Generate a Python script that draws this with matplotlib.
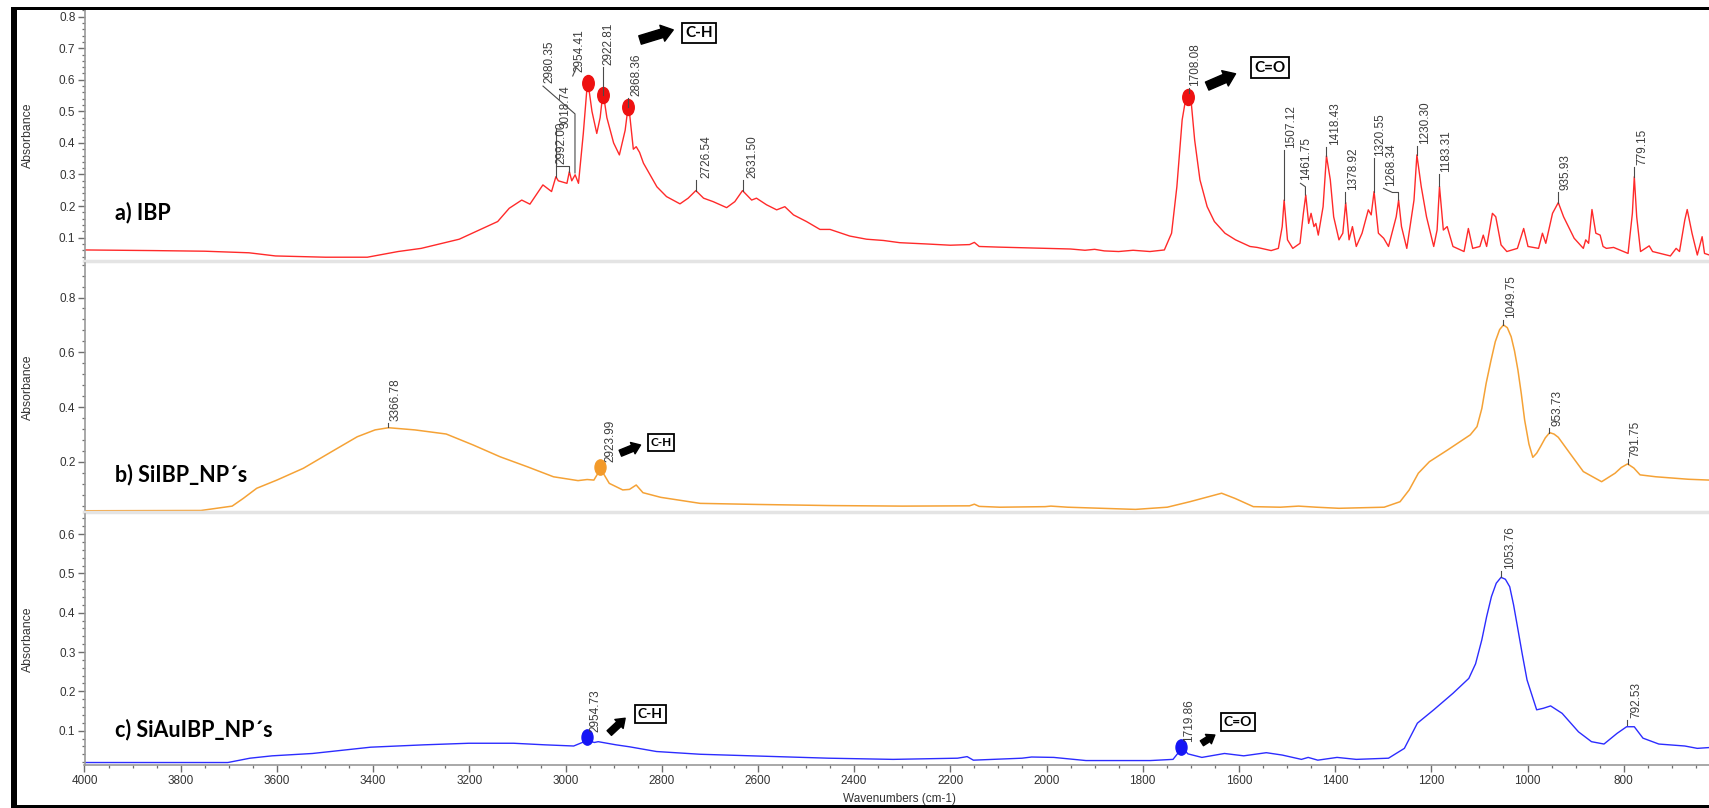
import matplotlib
matplotlib.use("Agg")
import matplotlib.pyplot as plt
from matplotlib.patches import Rectangle, FancyArrowPatch
from matplotlib.markers import MarkerStyle
from matplotlib.transforms import Affine2D
from matplotlib.ticker import MultipleLocator

plt.rcParams['font.family'] = ['Liberation Sans', 'DejaVu Sans']

# ---- spectra (wavenumber, absorbance) ----
ibp_wn = [4000, 3857, 3750, 3658, 3603, 3499, 3412, 3348, 3300, 3221, 3141, 3117, 3091, 3074,
          3047, 3029, 3020, 3015, 2997, 2992, 2987, 2980, 2973, 2963, 2954, 2945, 2935, 2928,
          2922, 2914, 2900, 2888, 2876, 2869, 2859, 2853, 2846, 2838, 2810, 2790, 2762, 2745,
          2729, 2713, 2693, 2665, 2648, 2632, 2613, 2603, 2582, 2561, 2544, 2526, 2499, 2471,
          2450, 2409, 2374, 2339, 2305, 2250, 2200, 2160, 2150, 2140, 2100, 2050, 2000, 1950,
          1920, 1900, 1880, 1850, 1820, 1785, 1755, 1740, 1729, 1718, 1711, 1706, 1699, 1692,
          1681, 1666, 1651, 1629, 1607, 1577, 1562, 1533, 1518, 1510, 1506, 1499, 1488, 1473,
          1466, 1461, 1455, 1450, 1444, 1440, 1435, 1425, 1418, 1410, 1403, 1392, 1384, 1378,
          1371, 1364, 1356, 1344, 1331, 1325, 1319, 1310, 1299, 1289, 1273, 1268, 1262, 1251,
          1236, 1230, 1221, 1210, 1195, 1188, 1183, 1175, 1167, 1155, 1132, 1123, 1114, 1099,
          1092, 1085, 1073, 1066, 1055, 1043, 1021, 1008, 999, 977, 969, 962, 948, 936, 925,
          903, 884, 879, 873, 866, 858, 849, 843, 836, 821, 791, 782, 778, 773, 765, 747, 740,
          703, 691, 684, 673, 668, 658, 647, 637, 632, 622]
ibp_abs = [0.061, 0.059, 0.057, 0.052, 0.042, 0.038, 0.038, 0.056, 0.066, 0.095, 0.151, 0.193,
           0.219, 0.206, 0.267, 0.246, 0.293, 0.280, 0.272, 0.309, 0.280, 0.299, 0.272, 0.430,
           0.600, 0.500, 0.430, 0.480, 0.562, 0.480, 0.400, 0.362, 0.440, 0.525, 0.380, 0.388,
           0.370, 0.336, 0.261, 0.230, 0.207, 0.225, 0.249, 0.225, 0.214, 0.195, 0.214, 0.249,
           0.219, 0.225, 0.204, 0.188, 0.198, 0.172, 0.151, 0.126, 0.126, 0.105, 0.095, 0.091,
           0.084, 0.080, 0.076, 0.078, 0.085, 0.072, 0.070, 0.068, 0.066, 0.064, 0.060, 0.063,
           0.058, 0.056, 0.060, 0.056, 0.061, 0.114, 0.261, 0.473, 0.536, 0.552, 0.526, 0.409,
           0.283, 0.198, 0.151, 0.114, 0.093, 0.072, 0.069, 0.059, 0.066, 0.135, 0.219, 0.093,
           0.066, 0.082, 0.177, 0.235, 0.145, 0.177, 0.135, 0.145, 0.108, 0.198, 0.359, 0.283,
           0.166, 0.093, 0.114, 0.211, 0.093, 0.135, 0.072, 0.114, 0.188, 0.172, 0.246, 0.114,
           0.098, 0.072, 0.166, 0.219, 0.135, 0.066, 0.219, 0.362, 0.262, 0.166, 0.072, 0.124,
           0.262, 0.124, 0.135, 0.072, 0.056, 0.129, 0.066, 0.072, 0.108, 0.072, 0.177, 0.166,
           0.077, 0.056, 0.066, 0.129, 0.072, 0.066, 0.114, 0.082, 0.177, 0.211, 0.166, 0.098,
           0.066, 0.093, 0.082, 0.189, 0.114, 0.108, 0.072, 0.066, 0.069, 0.050, 0.177, 0.293,
           0.166, 0.056, 0.074, 0.056, 0.042, 0.066, 0.056, 0.156, 0.189, 0.114, 0.045, 0.103,
           0.050, 0.045]

sibp_wn = [4000, 3758, 3693, 3670, 3642, 3600, 3545, 3480, 3433, 3396, 3368, 3313, 3248, 3192,
           3136, 3080, 3025, 2974, 2955, 2941, 2927, 2909, 2881, 2867, 2853, 2839, 2802, 2720,
           2600, 2450, 2300, 2160, 2150, 2140, 2097, 2003, 1991, 1956, 1815, 1749, 1702, 1636,
           1608, 1570, 1514, 1476, 1439, 1392, 1298, 1265, 1246, 1227, 1204, 1166, 1119, 1105,
           1095, 1086, 1076, 1067, 1058, 1050, 1042, 1034, 1027, 1020, 1013, 1006, 997, 989,
           981, 973, 963, 954, 945, 936, 912, 884, 846, 818, 805, 792, 779, 766, 733, 666, 623]
sibp_abs = [0.022, 0.023, 0.039, 0.067, 0.104, 0.134, 0.177, 0.244, 0.292, 0.317, 0.325, 0.317,
            0.302, 0.262, 0.219, 0.183, 0.146, 0.132, 0.136, 0.134, 0.175, 0.122, 0.098, 0.100,
            0.116, 0.088, 0.071, 0.049, 0.045, 0.041, 0.039, 0.040, 0.046, 0.038, 0.035, 0.037,
            0.039, 0.035, 0.027, 0.035, 0.055, 0.086, 0.067, 0.037, 0.035, 0.039, 0.035, 0.031,
            0.035, 0.055, 0.098, 0.159, 0.201, 0.244, 0.299, 0.329, 0.395, 0.487, 0.570, 0.639,
            0.683, 0.700, 0.690, 0.657, 0.605, 0.536, 0.450, 0.353, 0.265, 0.217, 0.232, 0.256,
            0.288, 0.307, 0.302, 0.290, 0.232, 0.165, 0.128, 0.159, 0.180, 0.193, 0.178, 0.153,
            0.146, 0.137, 0.134]

siau_wn = [4000, 3702, 3656, 3610, 3526, 3405, 3294, 3201, 3108, 3043, 2983, 2969, 2955, 2940,
           2932, 2895, 2867, 2811, 2720, 2453, 2319, 2185, 2165, 2152, 2051, 2031, 1985, 1918,
           1784, 1737, 1724, 1720, 1706, 1677, 1630, 1590, 1543, 1510, 1470, 1456, 1436, 1396,
           1356, 1289, 1256, 1229, 1195, 1155, 1122, 1108, 1095, 1085, 1075, 1065, 1055, 1046,
           1037, 1029, 1021, 1011, 1001, 981, 967, 952, 928, 894, 867, 841, 814, 794, 778,
           760, 727, 673, 647, 623]
siau_abs = [0.019, 0.019, 0.030, 0.036, 0.042, 0.058, 0.064, 0.068, 0.068, 0.064, 0.061, 0.068,
            0.075, 0.070, 0.072, 0.064, 0.059, 0.047, 0.040, 0.030, 0.027, 0.030, 0.034, 0.025,
            0.030, 0.033, 0.032, 0.024, 0.024, 0.027, 0.047, 0.060, 0.041, 0.032, 0.042, 0.036,
            0.044, 0.038, 0.027, 0.032, 0.025, 0.032, 0.027, 0.030, 0.055, 0.119, 0.153, 0.195,
            0.233, 0.270, 0.331, 0.390, 0.441, 0.475, 0.490, 0.485, 0.466, 0.420, 0.365, 0.295,
            0.229, 0.153, 0.157, 0.163, 0.144, 0.097, 0.072, 0.066, 0.093, 0.110, 0.110, 0.081,
            0.066, 0.061, 0.055, 0.057]

# marked peaks (dots)
ibp_dots_wn = [2954, 2922.7, 2869.4, 1706]
ibp_dots_abs = [0.589, 0.552, 0.514, 0.547]
sibp_dots_wn = [2927.5]
sibp_dots_abs = [0.183]
siau_dots_wn = [2955.3, 1719.7]
siau_dots_abs = [0.083, 0.058]

W, H = 1709, 808
fig = plt.figure(figsize=(W / 100, H / 100), dpi=100)


def px_axes(x0, y0, x1, y1):
    return fig.add_axes([x0 / W, 1 - y1 / H, (x1 - x0) / W, (y1 - y0) / H])


ax_a = px_axes(84.5, 10, W, 261)
ax_b = px_axes(84.5, 263, W, 512)
ax_c = px_axes(84.5, 514, W, 765)

ax_a.set_ylim(0.026, 0.821)
ax_b.set_ylim(0.0175, 0.926)
ax_c.set_ylim(0.0127, 0.651)

tick_grey = '#6e6e6e'
for ax, major, minor in [(ax_a, 0.1, 0.02), (ax_b, 0.2, 0.04), (ax_c, 0.1, 0.02)]:
    ax.set_xlim(4000, 622.7)
    for s in ['top', 'right']:
        ax.spines[s].set_visible(False)
    ax.spines['left'].set_color('#9a9a9a')
    ax.spines['left'].set_linewidth(1.2)
    ax.yaxis.set_major_locator(MultipleLocator(major))
    ax.yaxis.set_minor_locator(MultipleLocator(minor))
    ax.tick_params(axis='y', which='major', length=5, width=1, color=tick_grey,
                   labelsize=8.5, labelcolor='#333333', pad=1.5)
    ax.tick_params(axis='y', which='minor', length=2.5, width=0.9, color=tick_grey)
    ax.patch.set_alpha(0)

ax_a.set_yticks([0.1, 0.2, 0.3, 0.4, 0.5, 0.6, 0.7, 0.8])
ax_b.set_yticks([0.2, 0.4, 0.6, 0.8])
ax_c.set_yticks([0.1, 0.2, 0.3, 0.4, 0.5, 0.6])

for ax in [ax_a, ax_b]:
    ax.spines['bottom'].set_color('#e4e4e4')
    ax.spines['bottom'].set_linewidth(2.5)
    ax.tick_params(axis='x', which='both', bottom=False, labelbottom=False)

ax_c.spines['bottom'].set_color('#9a9a9a')
ax_c.spines['bottom'].set_linewidth(1.2)
ax_c.xaxis.set_major_locator(MultipleLocator(200))
ax_c.xaxis.set_minor_locator(MultipleLocator(50))
ax_c.tick_params(axis='x', which='major', length=5, width=1, color=tick_grey,
                 labelsize=8.5, labelcolor='#333333', pad=2)
ax_c.tick_params(axis='x', which='minor', length=2.5, width=0.9, color=tick_grey)

red, orange, blue = '#ff2a2a', '#f5a236', '#2c2cff'
ax_a.plot(ibp_wn, ibp_abs, color=red, lw=1.0)
ax_b.plot(sibp_wn, sibp_abs, color=orange, lw=1.1)
ax_c.plot(siau_wn, siau_abs, color=blue, lw=1.0)

dot = MarkerStyle('o', transform=Affine2D().scale(0.72, 1.0))
ax_a.plot(ibp_dots_wn, ibp_dots_abs, ls='none', marker=dot, ms=11.5, color='#ee1111')
ax_b.plot(sibp_dots_wn, sibp_dots_abs, ls='none', marker=dot, ms=11, color='#f39a2a')
ax_c.plot(siau_dots_wn, siau_dots_abs, ls='none', marker=dot, ms=11, color='#1515f5')

# ---- peak labels ----
lab_kw = dict(rotation=90, ha='center', va='bottom', fontsize=8.5, color='#3c3c3c',
              textcoords='offset pixels')
lead = dict(color='#4a4a4a', lw=0.8)

# text, wavenumber, line bottom, line top, text shift (px)
simple_labels = {
    ax_a: [("2922.81", 2922.7, 0.552, 0.641, 5.5), ("2868.36", 2869.4, 0.514, 0.542, 7.7),
           ("2726.54", 2728.7, 0.248, 0.283, 10), ("2631.50", 2631.6, 0.248, 0.283, 10),
           ("1708.08", 1704.8, 0.557, 0.573, 7), ("1507.12", 1506, 0.219, 0.376, 7),
           ("1418.43", 1418.9, 0.359, 0.388, 8.7), ("1378.92", 1378.6, 0.211, 0.243, 7.6),
           ("1320.55", 1319.3, 0.246, 0.351, 6), ("1230.30", 1230.4, 0.362, 0.391, 8.3),
           ("1183.31", 1183, 0.262, 0.302, 7), ("935.93", 936.6, 0.211, 0.243, 7.3),
           ("779.15", 778.6, 0.293, 0.325, 8)],
    ax_b: [("3366.78", 3370, 0.329, 0.343, 7.5), ("1049.75", 1050.3, 0.700, 0.718, 7.7),
           ("953.73", 954.5, 0.307, 0.325, 7.6), ("791.75", 791.9, 0.193, 0.211, 7.7)],
    ax_c: [("1053.76", 1055.1, 0.492, 0.505, 9), ("792.53", 794, 0.1145, 0.127, 9.4)],
}
for ax, items in simple_labels.items():
    for txt, wn, v0, v1, dx in items:
        ax.plot([wn, wn], [v0, v1], **lead)
        ax.annotate(txt, xy=(wn, v1), xytext=(dx, 2), **lab_kw)

# labels with bent leaders: text, leader points, text anchor
bent_labels = {
    ax_a: [("2980.35", [(2980.3, 0.305), (2980.3, 0.492), (3046.8, 0.58)], (3034, 0.59)),
           ("3018.74", [(3020, 0.292), (3020, 0.447)], (2999, 0.447)),
           ("2992.00", [(2992.7, 0.308), (2992.7, 0.327), (3019.7, 0.327)], (3009, 0.333)),
           ("2954.41", [(2985, 0.612), (2978, 0.637)], (2971, 0.625)),
           ("1461.75", [(1461.7, 0.235), (1461.7, 0.261), (1472, 0.272)], (1460.5, 0.283)),
           ("1268.34", [(1268.2, 0.219), (1268.2, 0.243), (1280.8, 0.243), (1299.4, 0.256)],
            (1283, 0.262))],
    ax_b: [("2923.99", [], (2906, 0.201))],
    ax_c: [("2954.73", [], (2938.7, 0.0975)), ("1719.86", [], (1703.7, 0.072))],
}
for ax, items in bent_labels.items():
    for txt, pts, (tx, ty) in items:
        if pts:
            ax.plot([p[0] for p in pts], [p[1] for p in pts], **lead)
        ax.annotate(txt, xy=(tx, ty), xytext=(0, 0), **lab_kw)

# ---- functional group callouts ----
def callout(ax, tail, head, box_xy, text, scale, fs):
    ax.add_patch(FancyArrowPatch(tail, head, arrowstyle='simple,head_length=0.55,head_width=0.8,tail_width=0.42',
                                 mutation_scale=scale, color='black', shrinkA=0, shrinkB=0, zorder=5))
    ax.text(box_xy[0], box_xy[1], text, ha='center', va='center', fontsize=fs, fontweight='bold',
            family=['Lato', 'DejaVu Sans'], zorder=6,
            bbox=dict(boxstyle='square,pad=0.22', fc='white', ec='black', lw=1.3))


callout(ax_a, (2845, 0.726), (2776, 0.758), (2722, 0.748), 'C-H', 15, 11)
callout(ax_a, (1666, 0.580), (1607, 0.619), (1535, 0.638), 'C=O', 15, 11)
callout(ax_b, (2886, 0.232), (2844, 0.262), (2802, 0.271), 'C-H', 11, 8.5)
callout(ax_c, (2909, 0.094), (2876, 0.1316), (2824, 0.1425), 'C-H', 11, 10)
callout(ax_c, (1677, 0.068), (1650, 0.089), (1602, 0.121), 'C=O', 10, 10)

# ---- sample names ----
name_kw = dict(ha='left', va='center', fontsize=15.5, fontweight='bold', family=['Lato', 'DejaVu Sans'])
ax_a.text(3936, 0.181, 'a) IBP', **name_kw)
ax_b.text(3936, 0.153, 'b) SiIBP_NP´s', **name_kw)
ax_c.text(3936, 0.104, 'c) SiAuIBP_NP´s', **name_kw)

# ---- axis titles ----
for ax in [ax_a, ax_b, ax_c]:
    pos = ax.get_position()
    fig.text(28 / W, pos.y0 + pos.height / 2, 'Absorbance', rotation=90, ha='center', va='center',
             fontsize=8.8, color='#333333')
fig.text(899 / W, 1 - 799 / H, 'Wavenumbers (cm-1)', ha='center', va='center', fontsize=8.5,
         color='#333333')

# ---- screenshot frame ----
fig.add_artist(Rectangle((11 / W, 0), 6 / W, (H - 7) / H, transform=fig.transFigure, color='black', lw=0))
fig.add_artist(Rectangle((11 / W, 1 - 10 / H), (W - 11) / W, 3 / H, transform=fig.transFigure, color='black', lw=0))
fig.add_artist(Rectangle((11 / W, 0), (W - 11) / W, 3 / H, transform=fig.transFigure, color='black', lw=0))

fig.savefig('out.png', dpi=100)
